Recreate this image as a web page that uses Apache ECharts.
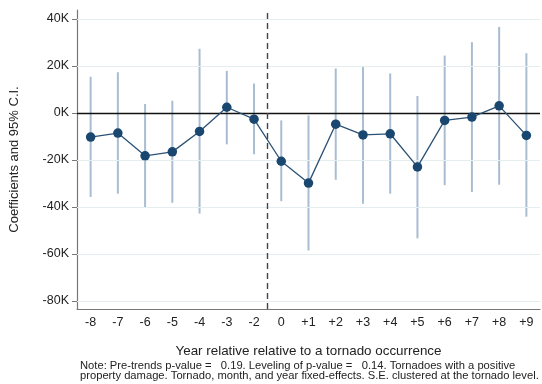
<!DOCTYPE html>
<html>
<head>
<meta charset="utf-8">
<script src="https://cdn.jsdelivr.net/npm/echarts@6/dist/echarts.min.js"></script>
<style>
  html, body { margin: 0; padding: 0; background: #ffffff; }
  #chart { width: 542px; height: 384px; }
</style>
</head>
<body>
<div id="chart"></div>
<script>
// Event-study estimates: years relative to a tornado occurrence
const years = ['-8', '-7', '-6', '-5', '-4', '-3', '-2', '0', '+1', '+2', '+3', '+4', '+5', '+6', '+7', '+8', '+9'];
const coef  = [-10300, -8600, -18300, -16600, -7900, 2400, -2700, -20600, -29900, -4800, -9400, -8900, -23000, -3200, -1800, 3000, -9600];
const ciLow = [-35800, -34400, -40400, -38300, -42900, -13400, -17600, -37600, -58600, -28500, -38700, -34400, -53400, -30800, -33700, -30600, -44200];
const ciHigh = [15400, 17300, 3800, 5200, 27300, 17900, 12500, -3200, -1100, 18900, 20000, 16800, 7200, 24400, 30100, 36600, 25400];
const yTicks = [-80000, -60000, -40000, -20000, 0, 20000, 40000];
const eventBoundary = 6.5; // between the last pre-period (-2) and year 0

const FONT = 'Liberation Sans';
const chart = echarts.init(document.getElementById('chart'), null, { renderer: 'canvas' });

const ciData = years.map((y, i) => [i, ciLow[i], ciHigh[i]]);
const gridLines = yTicks.filter(v => v !== 0).map(v => ({ yAxis: v }));

chart.setOption({
  animation: false,
  backgroundColor: '#ffffff',
  grid: { left: 77, right: 2, top: 10, bottom: 75 },
  xAxis: [{
    type: 'category',
    data: years,
    boundaryGap: true,
    axisLine: { onZero: false, lineStyle: { color: '#777777', width: 1.2 } },
    axisTick: { alignWithLabel: true, length: 5, lineStyle: { color: '#777777' } },
    axisLabel: { color: '#222222', fontFamily: FONT, fontSize: 12.5, margin: 7 },
    splitLine: { show: false },
    name: 'Year relative relative to a tornado occurrence',
    nameLocation: 'middle',
    nameGap: 36,
    nameTextStyle: { color: '#222222', fontFamily: FONT, fontSize: 13.4 }
  }, {
    type: 'value',
    min: -0.5,
    max: 16.5,
    show: false
  }],
  yAxis: {
    type: 'value',
    min: -83500,
    max: 43800,
    axisLine: { show: true, onZero: false, lineStyle: { color: '#777777', width: 1.2 } },
    axisTick: { show: true, length: 5, customValues: yTicks, lineStyle: { color: '#777777' } },
    axisLabel: {
      customValues: yTicks,
      color: '#222222', fontFamily: FONT, fontSize: 12.5, margin: 8,
      formatter: v => Math.round(v / 1000) + 'K'
    },
    splitLine: { show: false },
    name: 'Coefficients and 95% C.I.',
    nameLocation: 'middle',
    nameGap: 56,
    nameTextStyle: { color: '#222222', fontFamily: FONT, fontSize: 13 }
  },
  series: [
    {
      // faint horizontal reference lines at the labelled values
      type: 'line',
      data: [],
      silent: true,
      markLine: {
        symbol: 'none', silent: true, label: { show: false },
        lineStyle: { color: '#e4eef0', width: 1, type: 'solid' },
        data: gridLines
      }
    },
    {
      // 95% confidence intervals
      type: 'custom',
      data: ciData,
      z: 3,
      renderItem: (params, api) => {
        const p1 = api.coord([api.value(0), api.value(1)]);
        const p2 = api.coord([api.value(0), api.value(2)]);
        return {
          type: 'line',
          shape: { x1: p1[0], y1: p1[1], x2: p2[0], y2: p2[1] },
          style: { stroke: '#a9bdd2', lineWidth: 2 }
        };
      },
      encode: { x: 0, y: [1, 2] }
    },
    {
      // zero line
      type: 'line',
      data: [],
      silent: true,
      z: 4,
      markLine: {
        symbol: 'none', silent: true, label: { show: false },
        lineStyle: { color: '#111111', width: 1.3, type: 'solid' },
        data: [{ yAxis: 0 }]
      }
    },
    {
      // event boundary
      type: 'line',
      xAxisIndex: 1,
      data: [],
      silent: true,
      z: 4,
      markLine: {
        symbol: 'none', silent: true, label: { show: false },
        lineStyle: { color: '#444444', width: 1.4, type: [6, 4] },
        data: [{ xAxis: eventBoundary }]
      }
    },
    {
      // point estimates
      type: 'line',
      data: coef,
      z: 5,
      symbol: 'circle',
      symbolSize: 9.5,
      lineStyle: { color: '#2b5275', width: 1.3 },
      itemStyle: { color: '#1a476f' }
    }
  ],
  graphic: [
    {
      type: 'text', left: 80, top: 360,
      style: {
        text: 'Note: Pre-trends p-value =   0.19. Leveling of p-value =   0.14. Tornadoes with a positive\nproperty damage. Tornado, month, and year fixed-effects. S.E. clustered at the tornado level.',
        fontFamily: FONT, fontSize: 11.2, lineHeight: 10.5, fill: '#222222'
      }
    }
  ]
});
</script>
</body>
</html>
